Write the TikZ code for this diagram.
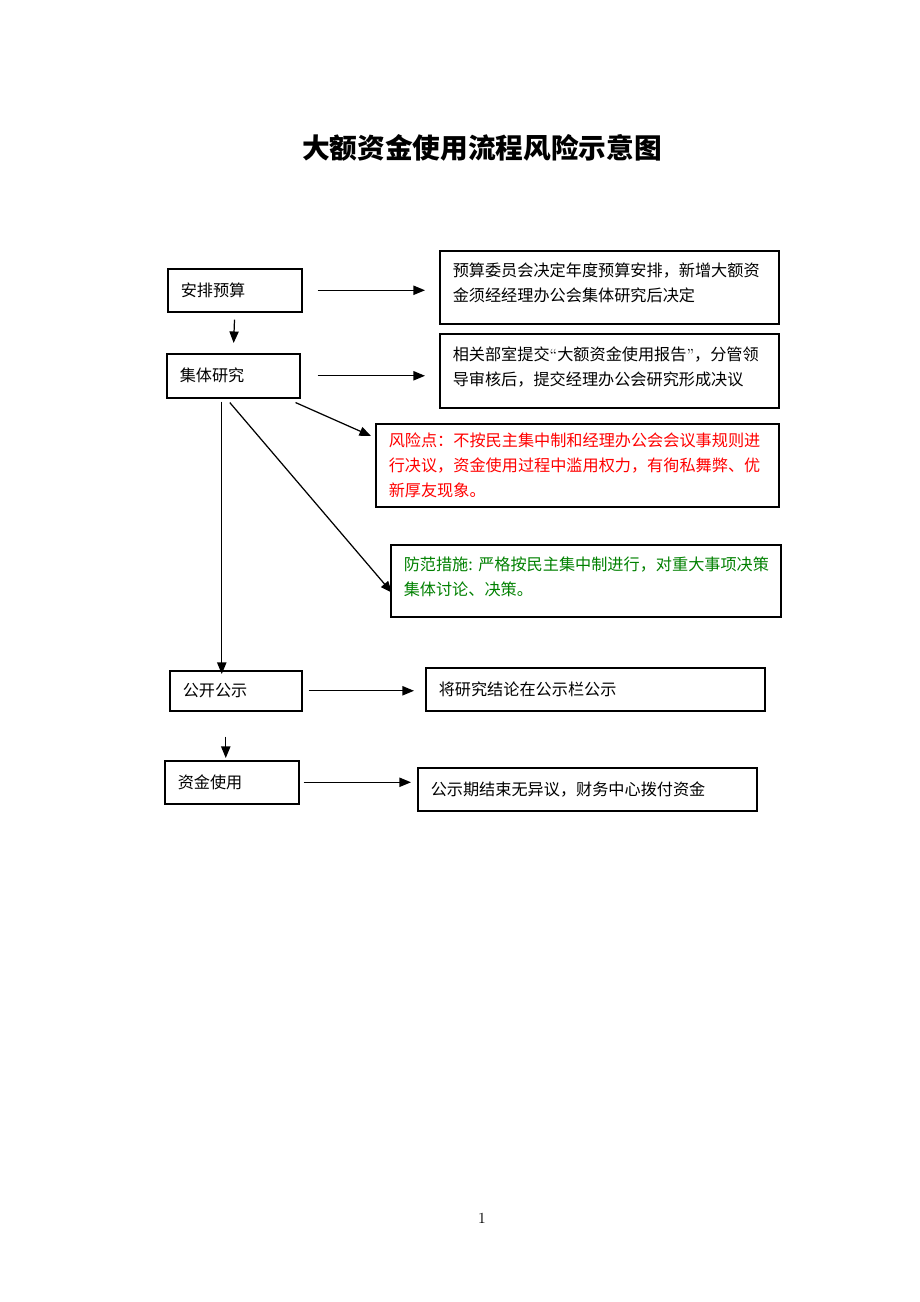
\documentclass[tikz,border=0pt]{standalone}
\usepackage{fontspec}
\newfontfamily\cjk{Noto Sans CJK SC}
\usepackage{tikz}
\usetikzlibrary{positioning, arrows.meta}

\def\pxu{0.65pt}

\begin{document}
\begin{tikzpicture}[x=0.65pt, y=-0.65pt,
            box/.style={draw, line width=1pt, anchor=north west, align=left,
                    inner xsep=13*\pxu, inner ysep=0pt,
                    font=\cjk\fontsize{10.5}{16.25}\selectfont},
            >={Triangle[length=7.5pt, width=6pt]},
            link/.style={->, line width=0.8pt},
        ]
        \useasboundingbox (0,0) rectangle (920,1302);

        \node[font=\cjk\bfseries\fontsize{18}{20}\selectfont] (title) at (482,148) {大额资金使用流程风险示意图};

        % left column
        \node[box, text width=108*\pxu, minimum height=43*\pxu] (plan) at (167,268) {安排预算};
        \node[box, text width=107*\pxu, minimum height=44*\pxu] (study) at (166,353) {集体研究};
        \node[box, text width=106*\pxu, minimum height=40*\pxu] (publish) at (169,670) {公开公示};
        \node[box, text width=108*\pxu, minimum height=43*\pxu] (use) at (164,760) {资金使用};

        % right column
        \node[box, text width=313*\pxu, minimum height=73*\pxu] (budget) at (439,250)
            {预算委员会决定年度预算安排，新增大额资\\金须经经理办公会集体研究后决定\\[-10pt]\mbox{}};
        \node[box, text width=313*\pxu, minimum height=74*\pxu] (report) at (439,333)
            {相关部室提交{\normalfont “}大额资金使用报告{\normalfont ”}，分管领\\导审核后，提交经理办公会研究形成决议\\[-10pt]\mbox{}};
        \node[box, text width=377*\pxu, minimum height=83*\pxu, text=red] (risk) at (375,423)
            {风险点：不按民主集中制和经理办公会会议事规则进\\行决议，资金使用过程中滥用权力，有徇私舞弊、优\\新厚友现象。};
        \node[box, text width=364*\pxu, minimum height=72*\pxu, text={rgb,255:red,0;green,128;blue,0}] (measure) at (390,544)
            {防范措施:~严格按民主集中制进行，对重大事项决策\\集体讨论、决策。\\[-10pt]\mbox{}};
        \node[box, text width=313*\pxu, minimum height=43*\pxu] (notice) at (425,667) {将研究结论在公示栏公示};
        \node[box, text width=313*\pxu, minimum height=43*\pxu] (pay) at (417,767) {公示期结束无异议，财务中心拨付资金};

        \node[font=\fontsize{10}{12}\selectfont] (page) at (482,1218) {1};

        \draw[link, shorten <=15*\pxu, shorten >=14*\pxu] (plan.east) -- (plan.east -| budget.west);
        \draw[link, shorten <=17*\pxu, shorten >=14*\pxu] (study.east) -- (study.east -| report.west);
        \draw[link, shorten <=7*\pxu, shorten >=10*\pxu] (plan.south) -- (study.north);
        \draw[link] ([xshift=-5*\pxu, yshift=-4*\pxu]study.south east) -- ([xshift=-4*\pxu, yshift=-13*\pxu]risk.north west);
        \draw[link] ([xshift=-3.5*\pxu, yshift=-4*\pxu]study.south) -- ([xshift=2*\pxu, yshift=-12*\pxu]measure.west);
        \draw[link, shorten <=3*\pxu, shorten >=-4*\pxu] ([xshift=-11.5*\pxu]study.south) -- ([xshift=-11.5*\pxu]study.south |- publish.north);
        \draw[link, shorten <=6*\pxu, shorten >=11*\pxu] (publish.east) -- (publish.east -| notice.west);
        \draw[link, shorten <=25*\pxu, shorten >=2*\pxu] ([xshift=-10*\pxu]publish.south) -- ([xshift=-10*\pxu]publish.south |- use.north);
        \draw[link, shorten <=4*\pxu, shorten >=6*\pxu] (use.east) -- (use.east -| pay.west);

    \end{tikzpicture}
\end{document}
